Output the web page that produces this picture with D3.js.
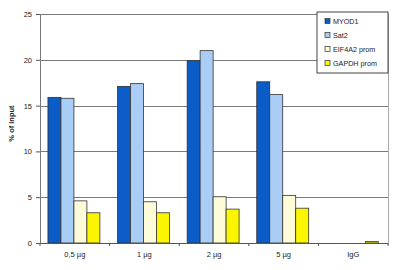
<!DOCTYPE html>
<html>
<head>
<meta charset="utf-8">
<script src="https://cdn.jsdelivr.net/npm/d3@7"></script>
<style>
  body { margin: 0; background: #fff; }
  svg { display: block; font-family: "Liberation Sans", Arial, sans-serif; }
</style>
</head>
<body>
<svg id="chart" width="400" height="270"></svg>
<script>
// Data
var categories = ['0,5 µg', '1 µg', '2 µg', '5 µg', 'IgG']
var seriesNames = ['MYOD1', 'Sat2', 'EIF4A2 prom', 'GAPDH prom']
var myod1 = [15.9, 17.1, 19.9, 17.6, 0]
var sat2 = [15.8, 17.4, 21.0, 16.2, 0]
var eif4a2 = [4.6, 4.5, 5.05, 5.2, 0]
var gapdh = [3.3, 3.3, 3.7, 3.8, 0.15]
var yTicks = [0, 5, 10, 15, 20, 25]

var colours = ['#0b5cc6', '#a9cdf4', '#fdfbd8', '#fbf600']
var series = [myod1, sat2, eif4a2, gapdh]

var margin = { top: 14, right: 12, bottom: 27, left: 40 },
	width = 400 - margin.left - margin.right,
	height = 270 - margin.top - margin.bottom

var svg = d3.select('#chart')
var g = svg.append('g').attr('transform', 'translate(' + margin.left + ',' + margin.top + ')')

var x = d3.scaleBand().domain(categories).range([0, width]).paddingInner(0).paddingOuter(0)
var xs = d3.scaleBand().domain(seriesNames).range([0, x.bandwidth()]).paddingInner(0).paddingOuter(0.68).align(0.45)
var y = d3.scaleLinear().domain([0, 25]).range([height, 0])

// gridlines
g.selectAll('.grid')
	.data(yTicks.slice(1))
	.join('line')
	.attr('class', 'grid')
	.attr('x1', 0)
	.attr('x2', width)
	.attr('y1', (d) => Math.round(y(d)) + 0.5)
	.attr('y2', (d) => Math.round(y(d)) + 0.5)
	.attr('stroke', '#7a7a7a')
	.attr('stroke-width', 1)

// right border of plot area
g.append('line')
	.attr('x1', width + 0.5)
	.attr('x2', width + 0.5)
	.attr('y1', 0)
	.attr('y2', height)
	.attr('stroke', '#aaa')

// bars
var groups = g.selectAll('.grp')
	.data(categories)
	.join('g')
	.attr('class', 'grp')
	.attr('transform', (d) => 'translate(' + x(d) + ',0)')

groups.selectAll('rect')
	.data((d, i) => series.map((s, j) => ({ key: seriesNames[j], value: s[i], c: colours[j] })))
	.join('rect')
	.attr('x', (d) => xs(d.key))
	.attr('width', xs.bandwidth())
	.attr('y', (d) => y(d.value))
	.attr('height', (d) => height - y(d.value))
	.attr('fill', (d) => d.c)
	.attr('stroke', '#333')
	.attr('stroke-width', 0.8)

// y axis
var yAxis = g.append('g')
	.call(d3.axisLeft(y).tickValues(yTicks).tickSize(4).tickPadding(4))
yAxis.select('.domain').attr('stroke', '#777')
yAxis.selectAll('line').attr('stroke', '#555')
yAxis.selectAll('text').attr('font-size', 7.5).attr('fill', '#222')

// x axis
var xAxis = g.append('g')
	.attr('transform', 'translate(0,' + height + ')')
	.call(d3.axisBottom(x).tickSize(0).tickPadding(9))
xAxis.select('.domain').attr('stroke', '#555')
xAxis.selectAll('text').attr('font-size', 7.5).attr('fill', '#222')
xAxis.selectAll('.bnd')
	.data(d3.range(categories.length + 1))
	.join('line')
	.attr('class', 'bnd')
	.attr('x1', (i) => i * x.bandwidth())
	.attr('x2', (i) => i * x.bandwidth())
	.attr('y1', 0)
	.attr('y2', 3)
	.attr('stroke', '#555')

// y label
svg.append('text')
	.attr('transform', 'translate(14,' + (margin.top + height / 2 - 5) + ') rotate(-90)')
	.attr('text-anchor', 'middle')
	.attr('font-size', 7.5)
	.attr('font-weight', 'bold')
	.attr('fill', '#222')
	.text('% of input')

// legend
var lg = svg.append('g').attr('transform', 'translate(317,12)')
lg.append('rect')
	.attr('width', 71)
	.attr('height', 61)
	.attr('fill', '#fff')
	.attr('stroke', '#444')
	.attr('stroke-width', 1)
var items = lg.selectAll('.item')
	.data(seriesNames)
	.join('g')
	.attr('class', 'item')
	.attr('transform', (d, i) => 'translate(8,' + (9 + i * 14) + ')')
items.append('rect')
	.attr('x', 0)
	.attr('y', -2.5)
	.attr('width', 5)
	.attr('height', 5)
	.attr('fill', (d, i) => colours[i])
	.attr('stroke', '#333')
	.attr('stroke-width', 0.7)
items.append('text')
	.attr('x', 8)
	.attr('y', 2.5)
	.attr('font-size', 7.2)
	.attr('fill', '#222')
	.text((d) => d)
</script>
</body>
</html>
